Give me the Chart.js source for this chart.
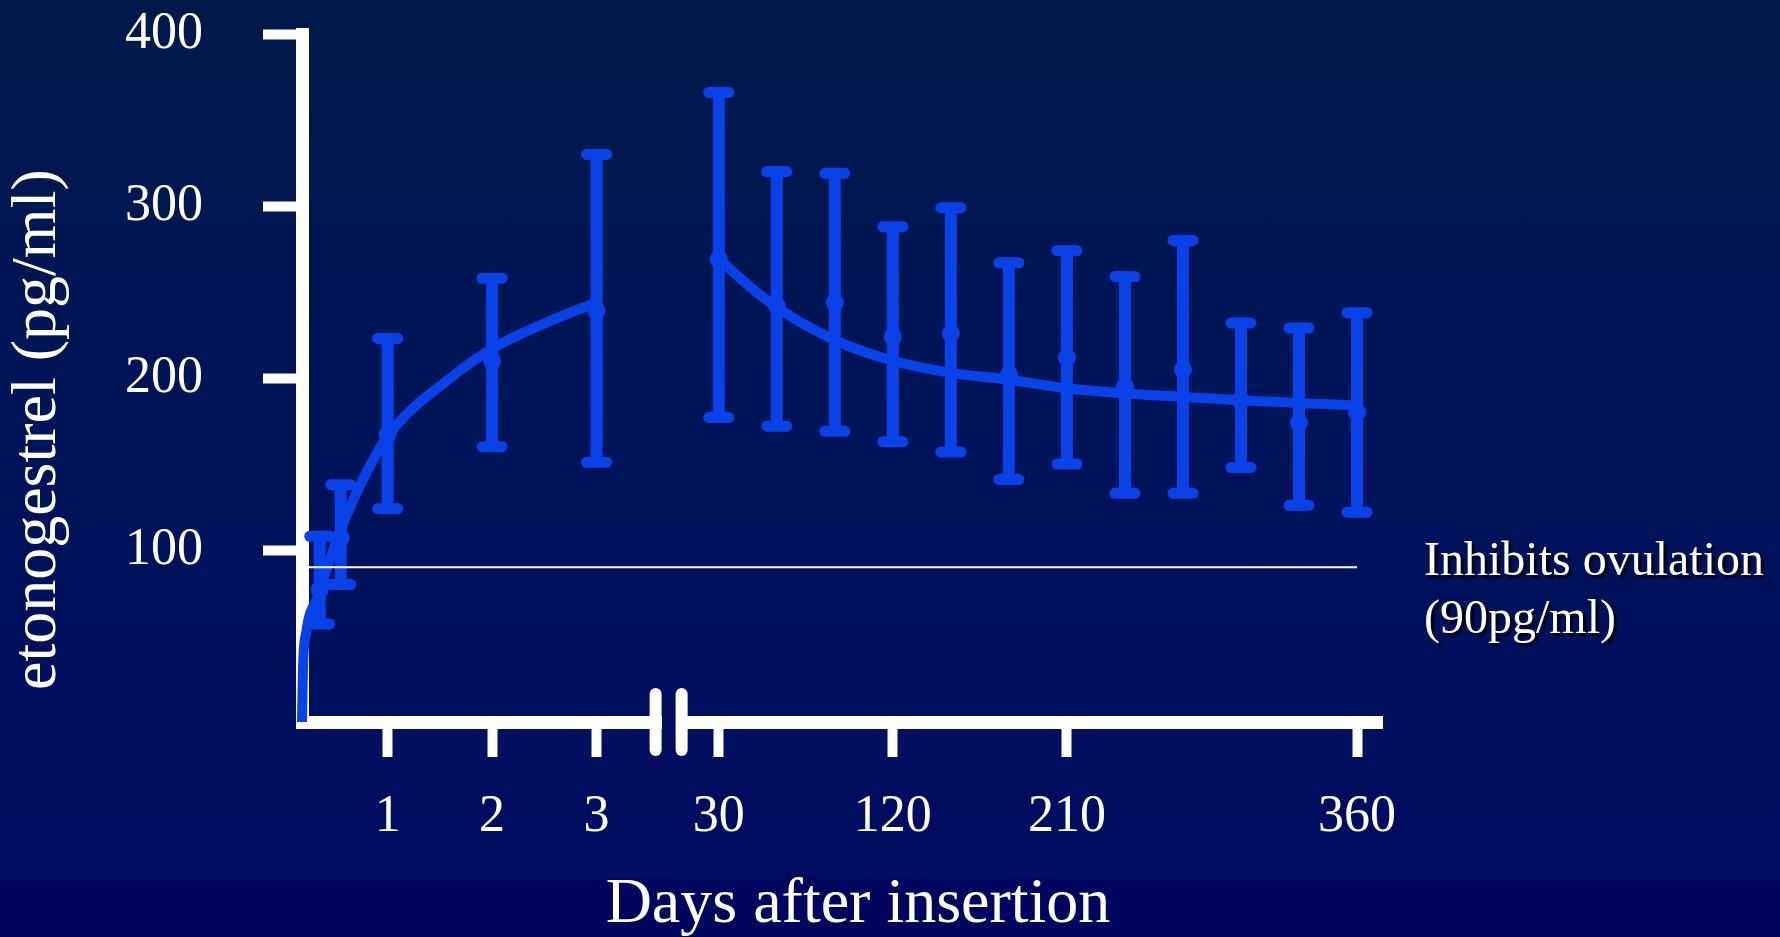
<!DOCTYPE html>
<html>
<head>
<meta charset="utf-8">
<title>Etonogestrel after insertion</title>
<script src="https://cdn.jsdelivr.net/npm/chart.js@4.4.1/dist/chart.umd.min.js"></script>
<style>
  html, body { margin: 0; padding: 0; }
  body {
    width: 1780px; height: 937px; overflow: hidden;
    background: linear-gradient(to bottom, #00194a 0px, #001459 440px, #000c61 878px, #00055e 878px, #00055e 937px);
  }
  #wrap { position: relative; width: 1780px; height: 937px; }
</style>
</head>
<body>
<div id="wrap"><canvas id="chart"></canvas></div>
<script>
// measured points: days after insertion, mean and error bar ends (pg/ml)
const earlyDays = [0.35, 0.55, 1, 2, 3];
const earlyMean = [77, 107, 167, 210, 239];
const earlyLow  = [57, 80, 124, 160, 151];
const earlyHigh = [108, 138, 223, 258, 330];

const lateDays = [30, 60, 90, 120, 150, 180, 210, 240, 270, 300, 330, 360];
const lateMean = [269, 242, 244, 224, 226, 202, 212, 195, 205, 187, 174, 180];
const lateLow  = [177, 172, 169, 163, 157, 141, 150, 133, 133, 148, 126, 122];
const lateHigh = [366, 320, 319, 288, 299, 267, 274, 259, 280, 232, 229, 238];

// fitted curve
const fitEarlyDays   = [0.18, 0.19, 0.22, 0.33, 0.48, 0.67, 1, 1.6, 2, 2.55, 3];
const fitEarlyValues = [0, 32, 52, 73, 100, 129, 166, 200, 217, 233, 244];
const fitLateDays    = [30, 38, 60, 90, 120, 150, 180, 210, 240, 270, 300, 330, 360];
const fitLateValues  = [270, 261, 241, 222, 210, 203, 199, 194, 191, 189, 187, 185.5, 184];

const xTickDays   = [1, 2, 3, 30, 120, 210, 360];
const xTickLabels = ['1', '2', '3', '30', '120', '210', '360'];
const ovulationLevel = 90;

// broken x axis: days 0-3 on the left part, 30-360 squeezed in after the break
const toAxis = d => (d <= 10 ? d : 4.17 + (d - 30) / 54);
const axisBreak = 3.69;

const BLUE = '#0a42ea';
const CAPS = 3;

const pts = (days, vals) => days.map((d, i) => ({ x: toAxis(d), y: vals[i] }));

const allDays = earlyDays.concat(lateDays);
const allMean = earlyMean.concat(lateMean);
const allLow  = earlyLow.concat(lateLow);
const allHigh = earlyHigh.concat(lateHigh);

const whiskers = [];
const caps = [];
allDays.forEach((d, i) => {
    whiskers.push({ x: toAxis(d), y: allLow[i] }, { x: toAxis(d), y: allHigh[i] }, { x: toAxis(d), y: null });
    caps.push({ x: toAxis(d), y: allLow[i] }, { x: toAxis(d), y: allHigh[i] });
});

const decorations = {
    id: 'decorations',
    beforeDatasetDraw(chart, args) {
        if (args.index === CAPS) chart.ctx.lineCap = 'round';
    },
    afterDatasetDraw(chart, args) {
        if (args.index === CAPS) chart.ctx.lineCap = 'butt';
    },
    afterDraw(chart) {
        const { ctx, chartArea, scales: { x, y } } = chart;

        // ovulation threshold line and its label
        const ly = y.getPixelForValue(ovulationLevel);
        const lx2 = x.getPixelForValue(toAxis(lateDays[lateDays.length - 1]));
        ctx.save();
        ctx.strokeStyle = '#ffffff';
        ctx.lineWidth = 2;
        ctx.beginPath();
        ctx.moveTo(chartArea.left + 6, ly);
        ctx.lineTo(lx2, ly);
        ctx.stroke();

        ctx.font = '48px "Liberation Serif"';
        ctx.fillStyle = '#ffffff';
        ctx.shadowColor = 'rgba(0,0,0,0.85)';
        ctx.shadowOffsetX = 3;
        ctx.shadowOffsetY = 3;
        ctx.shadowBlur = 2;
        ctx.fillText('Inhibits ovulation', chartArea.right + 42, ly + 8);
        ctx.fillText('(' + ovulationLevel + 'pg/ml)', chartArea.right + 42, ly + 66);
        ctx.restore();

        // axis break marks
        const bx = x.getPixelForValue(axisBreak);
        const by = chartArea.bottom;
        ctx.save();
        ctx.clearRect(bx - 7, by - 8, 14, 16);
        ctx.strokeStyle = '#ffffff';
        ctx.lineWidth = 12;
        ctx.lineCap = 'round';
        [-13, 13].forEach(dx => {
            ctx.beginPath();
            ctx.moveTo(bx + dx, by - 28);
            ctx.lineTo(bx + dx, by + 28);
            ctx.stroke();
        });
        ctx.restore();
    }
};

Chart.defaults.font.family = '"Liberation Serif", "Times New Roman", serif';
Chart.defaults.color = '#ffffff';

new Chart(document.getElementById('chart'), {
    type: 'line',
    data: {
        datasets: [
            {
                data: pts(fitEarlyDays, fitEarlyValues),
                borderColor: BLUE, borderWidth: 10, pointRadius: 0,
                cubicInterpolationMode: 'monotone', clip: false
            },
            {
                data: pts(fitLateDays, fitLateValues),
                borderColor: BLUE, borderWidth: 10, pointRadius: 0,
                cubicInterpolationMode: 'monotone', clip: false
            },
            {
                data: whiskers,
                borderColor: BLUE, borderWidth: 12, pointRadius: 0,
                spanGaps: false, clip: false
            },
            {
                data: caps,
                showLine: false, pointStyle: 'line', pointRadius: 10,
                pointBorderWidth: 11, pointBorderColor: BLUE, clip: false
            },
            {
                data: pts(allDays, allMean),
                showLine: false, pointStyle: 'circle', pointRadius: 9,
                pointBackgroundColor: BLUE, pointBorderWidth: 0, clip: false
            }
        ]
    },
    options: {
        responsive: true,
        maintainAspectRatio: false,
        animation: false,
        events: [],
        layout: { padding: { top: 34, right: 398, left: 0, bottom: 0 } },
        plugins: { legend: { display: false }, tooltip: { enabled: false } },
        scales: {
            x: {
                type: 'linear',
                bounds: 'data',
                min: 0.18,
                max: 10.52,
                afterFit: s => {
                    s.height = 215;
                    s.paddingLeft = 0;
                    s.paddingRight = 0;
                },
                afterBuildTicks: s => { s.ticks = xTickDays.map(d => ({ value: toAxis(d) })); },
                ticks: {
                    callback: (v, i) => xTickLabels[i],
                    font: { size: 52 },
                    padding: 29,
                    autoSkip: false,
                    maxRotation: 0
                },
                grid: { drawOnChartArea: false, tickLength: 35, tickWidth: 10, tickColor: '#ffffff' },
                border: { display: true, color: '#ffffff', width: 13 },
                title: {
                    display: true,
                    text: '  Days after insertion',
                    font: { size: 64, lineHeight: 1 },
                    padding: 0
                }
            },
            y: {
                min: 0,
                max: 400,
                afterFit: s => {
                    s.width = 302;
                    s.paddingTop = 0;
                    s.paddingBottom = 0;
                },
                ticks: {
                    stepSize: 100,
                    callback: v => (v === 0 ? '' : v),
                    font: { size: 52 },
                    padding: 60
                },
                grid: {
                    drawOnChartArea: false,
                    tickLength: 39,
                    tickWidth: 10,
                    tickColor: c => (c.tick && c.tick.value === 0 ? 'rgba(0,0,0,0)' : '#ffffff')
                },
                border: { display: true, color: '#ffffff', width: 13 },
                title: {
                    display: true,
                    text: '  etonogestrel (pg/ml)',
                    align: 'start',
                    font: { size: 64, lineHeight: 1.2 },
                    padding: 0
                }
            }
        }
    },
    plugins: [decorations]
});
</script>
</body>
</html>
